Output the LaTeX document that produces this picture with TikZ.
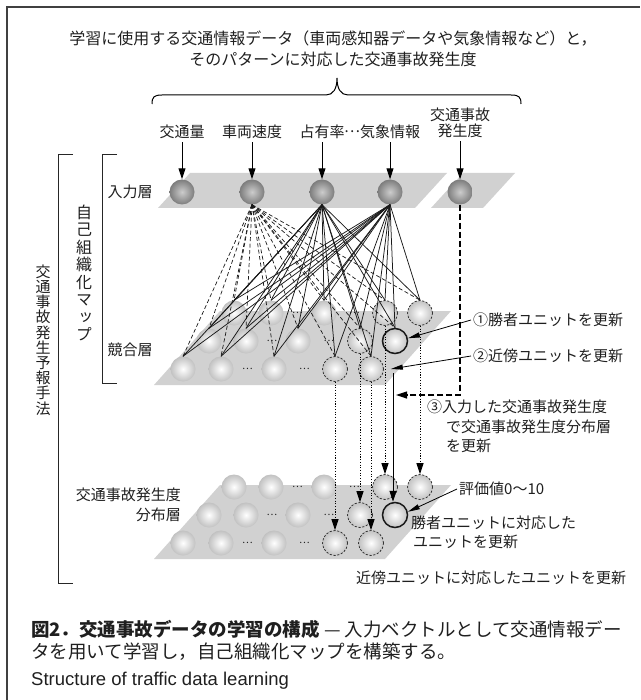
\documentclass[tikz,border=0pt]{standalone}
\usepackage{fontspec}
\setmainfont{Liberation Sans}
\newfontfamily\jp{Noto Sans CJK JP}
\newfontfamily\jpv[RawFeature=+vert]{Noto Sans CJK JP}
\usetikzlibrary{arrows.meta}
\pgfdeclareradialshading{cball}{\pgfpointorigin}{color(0bp)=(white); color(5bp)=(white!95!black); color(50bp)=(black!48); color(100bp)=(black!48)}
\pgfdeclareradialshading{iball}{\pgfpointorigin}{color(0bp)=(black!20); color(50bp)=(black!82); color(100bp)=(black!82)}
\begin{document}
\begin{tikzpicture}[x=1pt,y=-1pt,
  every node/.style={inner sep=0pt, text=black!88},
  lbl/.style={font=\jp\fontsize{15}{16.5}\selectfont},
  captxt/.style={font=\jp\fontsize{18.5}{20}\selectfont, anchor=west},
  slab/.style={fill=black!18},
  cu/.style={circle, minimum size=25pt, shading=cball},
  iu/.style={circle, minimum size=25pt, shading=iball},
  nb/.style={cu, draw=black!85, line width=0.7pt, dash pattern=on 2.2pt off 1.6pt},
  wn/.style={cu, draw=black!90, line width=1.5pt},
  dotsl/.style={font=\jp\fontsize{10}{10}\selectfont},
  arr/.style={line width=1pt, -{Triangle[length=11pt,width=7pt]}},
  tarr/.style={line width=0.8pt, -{Triangle[length=12pt,width=5pt]}},
  fan/.style={line width=0.75pt, black!90},
  dfan/.style={line width=0.7pt, black!90, dash pattern=on 4pt off 2.5pt},
  dotarr/.style={line width=0.9pt, dash pattern=on 1.1pt off 1.6pt, -{Triangle[length=11pt,width=7pt]}},
  ldash/.style={line width=1.2pt, dash pattern=on 6pt off 3pt, -{Triangle[length=11pt,width=7pt]}},
  brk/.style={line width=1pt, black!85},
]
\useasboundingbox (0,0) rectangle (640,700);
% frame
\draw[line width=1.2pt, black!75] (7,700) -- (7,7) -- (640,7);

% title and brace
\node[font=\jp\fontsize{16}{21}\selectfont, align=center] (title) at (333,49) {学習に使用する交通情報データ（車両感知器データや気象情報など）と，\\そのパターンに対応した交通事故発生度};
\draw[line width=1pt] (152,104) .. controls (152,97) and (154,95) .. (162,95) -- (326,95) .. controls (333,95) and (337,89) .. (337,78) .. controls (337,89) and (341,95) .. (348,95) -- (511,95) .. controls (519,95) and (521,97) .. (521,104);

% planes
\fill[slab] (190,173) -- (447,173) -- (415,208) -- (158,208) -- cycle;
\fill[slab] (463,173) -- (515,173) -- (483,208) -- (431,208) -- cycle;
\fill[slab] (220,311) -- (451,311) -- (385,385) -- (154,385) -- cycle;
\fill[slab] (220,485) -- (451,485) -- (385,559) -- (154,559) -- cycle;

% input units
\node[iu] (i1) at (182,192) {};
\node[iu] (i2) at (252,192) {};
\node[iu] (i3) at (322,192) {};
\node[iu] (i4) at (390,192) {};
\node[iu] (i5) at (460,192) {};

% competitive layer
\node[cu] (cT1) at (234,313) {};
\node[cu] (cT2) at (271,313) {};
\node[cu] (cT3) at (324,313) {};
\node[nb] (cT4) at (385,313) {};
\node[nb] (cT5) at (420,313) {};
\node[cu] (cM1) at (209,341) {};
\node[cu] (cM2) at (246,341) {};
\node[cu] (cM3) at (298,341) {};
\node[nb] (cM4) at (360,341) {};
\node[wn] (cM5) at (395,341) {};
\node[cu] (cB1) at (183,369) {};
\node[cu] (cB2) at (221,369) {};
\node[cu] (cB3) at (274,369) {};
\node[nb] (cB4) at (335,369) {};
\node[nb] (cB5) at (371,369) {};

% distribution layer
\node[cu] (dT1) at (234,487) {};
\node[cu] (dT2) at (271,487) {};
\node[cu] (dT3) at (324,487) {};
\node[nb] (dT4) at (385,487) {};
\node[nb] (dT5) at (420,487) {};
\node[cu] (dM1) at (209,515) {};
\node[cu] (dM2) at (246,515) {};
\node[cu] (dM3) at (298,515) {};
\node[nb] (dM4) at (360,515) {};
\node[wn] (dM5) at (395,515) {};
\node[cu] (dB1) at (183,543) {};
\node[cu] (dB2) at (221,543) {};
\node[cu] (dB3) at (274,543) {};
\node[nb] (dB4) at (335,543) {};
\node[nb] (dB5) at (371,543) {};

% dots
\foreach \L/\y in {c/0,d/174}{
  \node[dotsl] (\L dt1) at (297.5,313+\y) {…};
  \node[dotsl] (\L dt2) at (354.5,313+\y) {…};
  \node[dotsl] (\L dm1) at (272,341+\y) {…};
  \node[dotsl] (\L dm2) at (329,341+\y) {…};
  \node[dotsl] (\L db1) at (247.5,369+\y) {…};
  \node[dotsl] (\L db2) at (304.5,369+\y) {…};
}

% fans input -> competitive
\foreach \t in {cT1,cT2,cT3,cT4,cT5,cM1,cM2,cM3,cM4,cM5,cB1,cB2,cB3,cB4,cB5}{
  \draw[dfan] (i2.south) -- (\t.north);
  \draw[fan] (i3.south) -- (\t.north);
  \draw[fan] (i4.south) -- (\t.north);
}

% vertical connections competitive -> distribution
\draw[dotarr] (cB4.south) -- (cB4.south |- dB4.north);
\draw[dotarr] (cM4.south) -- (cM4.south |- dM4.north);
\draw[dotarr] (cB5.south) -- (cB5.south |- dB5.north);
\draw[dotarr] (cT4.south) -- (cT4.south |- dT4.north);
\draw[dotarr] (cT5.south) -- (cT5.south |- dT5.north);
\coordinate (sv) at (393,373);
\draw[arr] (sv) -- (sv |- dM5.north);
\coordinate (hj) at (396,395);
\draw[ldash] (i5.south) |- (hj);

% input labels and arrows
\node[lbl] (l1) at (182,132) {交通量};
\node[lbl] (l2) at (252,132) {車両速度};
\node[lbl] (l3) at (322,132) {占有率};
\node[lbl] (l3d) at (352,132) {…};
\node[lbl] (l4) at (390,132) {気象情報};
\node[lbl, align=center] (l5) at (460,123) {交通事故\\発生度};
\foreach \a/\b in {l1/i1,l2/i2,l3/i3,l4/i4,l5/i5}{
  \draw[arr, shorten <=3pt] (\a.south) -- (\b.north);
}

% left labels and brackets
\node[lbl] (lin) at (130,192) {入力層};
\node[lbl] (lcomp) at (130,350) {競合層};
\node[lbl, anchor=east] (ldist1) at (181,495) {交通事故発生度};
\node[lbl, anchor=east] (ldist2) at (181,515) {分布層};
\draw[brk] (117,155) -- (102,155) -- (102,383) -- (117,383);
\draw[brk] (73,155) -- (58,155) -- (58,583) -- (73,583);
\node[font=\jpv\fontsize{16}{17.5}\selectfont, align=center] (vsom) at (84,273) {自\\己\\組\\織\\化\\マ\\ッ\\プ};
\node[font=\jpv\fontsize{15}{15.2}\selectfont, align=center] (vmeth) at (43,340) {交\\通\\事\\故\\発\\生\\予\\報\\手\\法};

% right annotations
\node[lbl, anchor=west] (t1) at (473,320) {①勝者ユニットを更新};
\node[lbl, anchor=west] (t2) at (473,356) {②近傍ユニットを更新};
\node[lbl, anchor=west] (t3a) at (427,407) {③入力した交通事故発生度};
\node[lbl, anchor=west] (t3b) at (446,427) {で交通事故発生度分布層};
\node[lbl, anchor=west] (t3c) at (446,446) {を更新};
\node[lbl, anchor=west] (t4) at (459,489) {評価値0～10};
\node[lbl, anchor=west] (t5) at (411,523) {勝者ユニットに対応した};
\node[lbl, anchor=west] (t5b) at (413,542) {ユニットを更新};
\node[lbl, anchor=west] (t6) at (356,578) {近傍ユニットに対応したユニットを更新};
\draw[tarr] ([xshift=-2pt]t1.west) -- (cM5.12);
\draw[tarr] ([xshift=-2pt]t2.west) -- ([xshift=7pt]cB5.east);
\draw[tarr] ([xshift=-2pt]t4.west) -- (dM5.14);

% caption
\node[captxt] (c1) at (31,629) {{\bfseries 図2．交通事故データの学習の構成} — 入力ベクトルとして交通情報デー};
\node[captxt] (c2) at (31,652) {タを用いて学習し，自己組織化マップを構築する。};
\node[captxt, font=\fontsize{18.5}{20}\selectfont] (c3) at (31,681) {Structure of traffic data learning};
\end{tikzpicture}
\end{document}
